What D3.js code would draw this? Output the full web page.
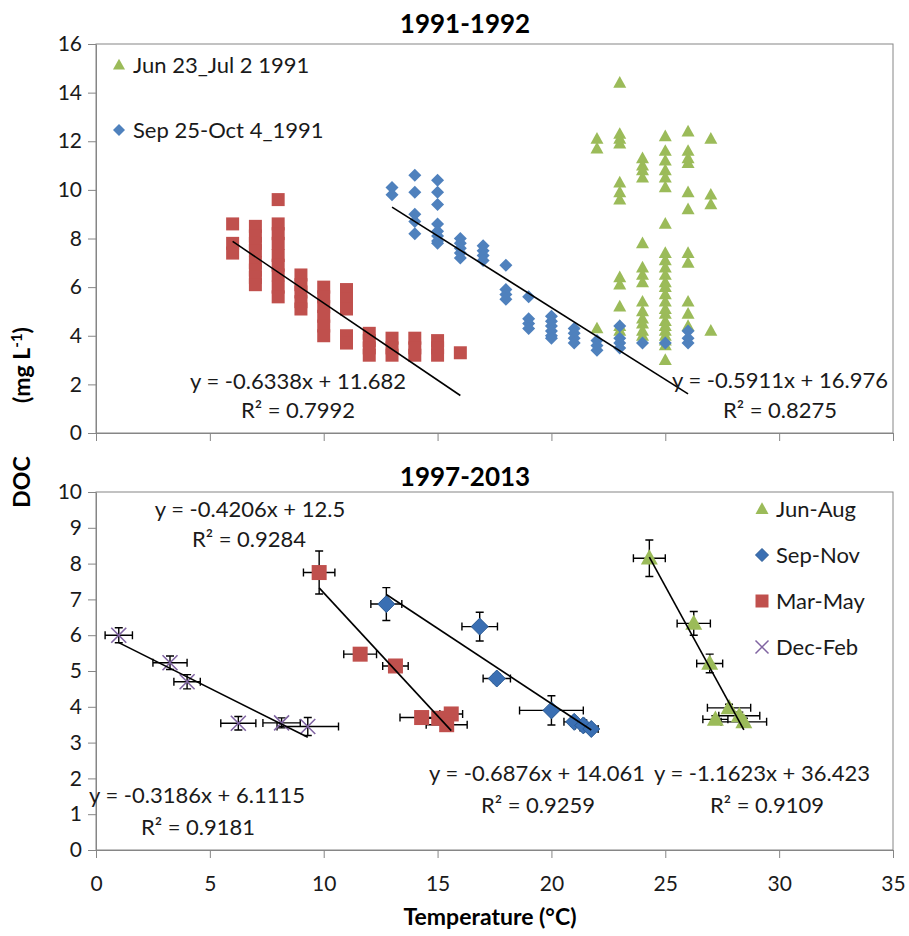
<!DOCTYPE html>
<html>
<head>
<meta charset="utf-8">
<script src="https://cdn.jsdelivr.net/npm/d3@7"></script>
<style>
  body { margin: 0; background: #fff; }
  svg { font-family: Lato, "Open Sans", sans-serif; }
</style>
</head>
<body>
<div id="chart"></div>
<script>
// ---- data: 1991-1992 (temperature column, DOC values) ----
const spring1992 = [
  [6, [8.6, 7.8, 7.4]],
  [7, [8.5, 8.1, 7.8, 7.5, 7.0, 6.7, 6.4, 6.1]],
  [8, [9.6, 8.6, 8.2, 7.8, 7.3, 6.9, 6.5, 6.0, 5.6]],
  [9, [6.5, 6.1, 5.8, 5.4, 5.1]],
  [10, [6.0, 5.6, 5.2, 4.8, 4.4, 4.0]],
  [11, [5.9, 5.5, 5.1, 4.0, 3.7]],
  [12, [4.1, 3.8, 3.5, 3.2]],
  [13, [3.9, 3.5, 3.2]],
  [14, [3.9, 3.5, 3.2]],
  [15, [3.8, 3.5, 3.2]],
  [16, [3.3]]
];
const junJul1991 = [
  [22, [12.1, 11.7, 4.3]],
  [23, [14.4, 12.3, 12.1, 11.9, 10.3, 9.9, 9.6, 6.4, 6.1, 5.2, 4.4, 4.2]],
  [24, [11.3, 11.0, 10.8, 10.5, 7.8, 6.8, 6.5, 6.2, 5.4, 5.0, 4.7, 4.5, 4.2, 4.0]],
  [25, [12.2, 11.6, 11.2, 10.8, 10.5, 10.1, 8.6, 7.4, 7.1, 6.8, 6.5, 6.2, 6.0, 5.7, 5.4, 5.1, 4.9, 4.6, 4.4, 4.2, 4.0, 3.8, 3.6, 3.0]],
  [26, [12.4, 11.6, 11.3, 11.1, 9.9, 9.2, 7.4, 7.0, 5.4, 4.9, 4.4]],
  [27, [12.1, 9.8, 9.4, 4.2]]
];
const sepOct1991 = [
  [13, [10.1, 9.8]],
  [14, [10.6, 9.9, 9.0, 8.7, 8.2]],
  [15, [10.4, 9.9, 9.4, 8.6, 8.3, 8.1, 7.9, 7.8]],
  [16, [8.0, 7.8, 7.6, 7.4, 7.2]],
  [17, [7.7, 7.5, 7.3, 7.1]],
  [18, [6.9, 5.9, 5.7, 5.5]],
  [19, [5.6, 4.7, 4.5, 4.3]],
  [20, [4.8, 4.6, 4.4, 4.2, 4.0, 3.9]],
  [21, [4.3, 4.1, 3.9, 3.7]],
  [22, [3.8, 3.6, 3.4]],
  [23, [4.4, 3.9, 3.7, 3.5]],
  [24, [3.7]],
  [25, [3.7]],
  [26, [4.2, 3.9, 3.7]]
];

// ---- data: 1997-2013 seasonal means [temp, DOC, temp err, DOC err] ----
const junAug = [[24.3, 8.15, 0.7, 0.51], [26.25, 6.33, 0.73, 0.33], [26.95, 5.21, 0.57, 0.26],
  [27.8, 3.97, 0.95, 0.1], [27.2, 3.65, 0.55, 0.1], [28.25, 3.75, 0.9, 0.1], [28.45, 3.58, 1.0, 0.1]];
const sepNov = [[12.75, 6.87, 0.68, 0.46], [16.85, 6.24, 0.78, 0.4], [17.6, 4.79, 0.6, 0.12],
  [20.0, 3.9, 1.4, 0.41], [21.0, 3.58, 0.45, 0.12], [21.4, 3.48, 0.35, 0.15], [21.75, 3.38, 0.3, 0.1]];
const marMay = [[9.8, 7.75, 0.69, 0.6], [11.6, 5.47, 0.72, 0.08], [13.15, 5.14, 0.56, 0.1],
  [14.3, 3.7, 0.95, 0.1], [15.05, 3.68, 0.5, 0.1], [15.6, 3.8, 0.5, 0.12], [15.4, 3.5, 0.9, 0.1]];
const decFeb = [[1.0, 6.0, 0.6, 0.21], [3.25, 5.23, 0.75, 0.19], [4.0, 4.7, 0.58, 0.2],
  [6.25, 3.54, 0.77, 0.19], [8.15, 3.55, 0.82, 0.14], [9.3, 3.45, 1.35, 0.25]];

// ---- linear fits: [slope, intercept, xStart, xEnd] ----
const topFits = [[-0.6338, 11.682, 6, 16], [-0.5911, 16.976, 13, 26]];
const bottomFits = [[-0.3186, 6.1115, 1.0, 9.3], [-0.6876, 14.061, 9.8, 15.6],
  [-0.4206, 12.5, 12.75, 21.75], [-1.1623, 36.423, 24.3, 28.45]];
const topEquations = [["y = -0.6338x + 11.682", "R² = 0.7992"], ["y = -0.5911x + 16.976", "R² = 0.8275"]];
const bottomEquations = [["y = -0.4206x + 12.5", "R² = 0.9284"], ["y = -0.3186x + 6.1115", "R² = 0.9181"],
  ["y = -0.6876x + 14.061", "R² = 0.9259"], ["y = -1.1623x + 36.423", "R² = 0.9109"]];

const xTicks = [0, 5, 10, 15, 20, 25, 30, 35];
const topYTicks = [0, 2, 4, 6, 8, 10, 12, 14, 16];
const bottomYTicks = [0, 1, 2, 3, 4, 5, 6, 7, 8, 9, 10];
const topLegend = ["Jun 23_Jul 2 1991", "Sep 25-Oct 4_1991"];
const bottomLegend = ["Jun-Aug", "Sep-Nov", "Mar-May", "Dec-Feb"];

// ---- layout ----
const width = 909, height = 936;
const axisGray = '#868686';
const RED = '#C0504D', GREEN = '#9BBB59', BLUE = '#4F81BD', DBLUE = '#3A6FB3', PURPLE = '#8064A2';

const svg = d3.select('#chart').append('svg').attr('width', width).attr('height', height);

const x = d3.scaleLinear().domain([0, 35]).range([96, 893]);
const yTop = d3.scaleLinear().domain([0, 16]).range([433, 44]);
const yBot = d3.scaleLinear().domain([0, 10]).range([850, 492]);

function shape(kind, s) {
  const h = s / 2;
  if (kind === 'square') return `M${-h},${-h}H${h}V${h}H${-h}Z`;
  if (kind === 'diamond') return `M0,${-h}L${h},0L0,${h}L${-h},0Z`;
  if (kind === 'triangle') return `M0,${-h * 1.05}L${h},${h * 0.75}L${-h},${h * 0.75}Z`;
  return `M${-h},${-h}L${h},${h}M${h},${-h}L${-h},${h}`;
}

function flat(cols) {
  return cols.flatMap(([t, vals]) => vals.map(v => [t, v]));
}

function frame(y, yTicks, showXLabels) {
  const g = svg.append('g');
  const [y0, y1] = y.range();
  g.append('rect')
    .attr('x', x(0)).attr('y', y1)
    .attr('width', x(35) - x(0)).attr('height', y0 - y1)
    .attr('fill', 'none').attr('stroke', axisGray);

  const ya = g.append('g')
    .attr('transform', `translate(${x(0)},0)`)
    .call(d3.axisLeft(y).tickValues(yTicks).tickSize(8).tickPadding(6).tickSizeOuter(0));
  const xa = g.append('g')
    .attr('transform', `translate(0,${y0})`)
    .call(d3.axisBottom(x).tickValues(xTicks).tickSize(8).tickPadding(18).tickSizeOuter(0)
      .tickFormat(showXLabels ? d3.format('d') : ''));
  [ya, xa].forEach(a => {
    a.select('.domain').attr('stroke', axisGray);
    a.selectAll('line').attr('stroke', axisGray);
    a.selectAll('text').attr('fill', '#1a1a1a').style('font-size', '21px')
      .style('font-family', 'Lato, sans-serif');
  });
  return g;
}

function fitLines(g, y, fits) {
  g.selectAll(null).data(fits).join('line')
    .attr('x1', d => x(d[2])).attr('y1', d => y(d[0] * d[2] + d[1]))
    .attr('x2', d => x(d[3])).attr('y2', d => y(d[0] * d[3] + d[1]))
    .attr('stroke', '#000').attr('stroke-width', 1.6);
}

function equations(g, eqs, spots) {
  eqs.forEach((lines, i) => {
    lines.forEach((txt, j) => {
      g.append('text')
        .attr('x', spots[i][j][0]).attr('y', spots[i][j][1])
        .attr('dy', '0.35em').attr('text-anchor', 'middle')
        .style('font-size', '22px').attr('fill', '#1a1a1a')
        .text(txt);
    });
  });
}

// ================= top panel =================
const gTop = frame(yTop, topYTicks, false);

gTop.append('g').selectAll('path').data(flat(spring1992)).join('path')
  .attr('d', shape('square', 13))
  .attr('transform', d => `translate(${x(d[0])},${yTop(d[1])})`)
  .attr('fill', RED);
gTop.append('g').selectAll('path').data(flat(junJul1991)).join('path')
  .attr('d', shape('triangle', 13))
  .attr('transform', d => `translate(${x(d[0])},${yTop(d[1])})`)
  .attr('fill', GREEN);
gTop.append('g').selectAll('path').data(flat(sepOct1991)).join('path')
  .attr('d', shape('diamond', 13))
  .attr('transform', d => `translate(${x(d[0])},${yTop(d[1])})`)
  .attr('fill', BLUE);

fitLines(gTop, yTop, topFits);
equations(gTop, topEquations, [[[298, 381], [298, 410]], [[780, 380], [780, 410]]]);

// legend (top)
const legTop = gTop.append('g');
[['triangle', GREEN, 65], ['diamond', BLUE, 130]].forEach(([k, c, ly], i) => {
  legTop.append('path').attr('d', shape(k, 12)).attr('fill', c)
    .attr('transform', `translate(119,${ly})`);
  legTop.append('text').attr('x', 133).attr('y', ly).attr('dy', '0.35em')
    .style('font-size', '22px').attr('fill', '#1a1a1a').text(topLegend[i]);
});

svg.append('text').attr('x', 465).attr('y', 33).attr('text-anchor', 'middle')
  .style('font-size', '26px').style('font-weight', 'bold').text('1991-1992');

// ================= bottom panel =================
const gBot = frame(yBot, bottomYTicks, true);

const seasons = [
  { data: decFeb, kind: 'x', size: 15, fill: 'none', stroke: PURPLE },
  { data: marMay, kind: 'square', size: 15, fill: RED, stroke: 'none' },
  { data: sepNov, kind: 'diamond', size: 17, fill: DBLUE, stroke: '#2A5A94' },
  { data: junAug, kind: 'triangle', size: 17, fill: GREEN, stroke: 'none' }
];

const cap = 4;
const errG = gBot.append('g').attr('stroke', '#000').attr('stroke-width', 1.4);
seasons.forEach(s => {
  s.data.forEach(([t, v, te, ve]) => {
    const px = x(t), py = yBot(v);
    const xl = x(t - te), xr = x(t + te), yt = yBot(v + ve), yb = yBot(v - ve);
    errG.append('path')
      .attr('fill', 'none')
      .attr('d', `M${xl},${py}H${xr}M${xl},${py - cap}V${py + cap}M${xr},${py - cap}V${py + cap}` +
        `M${px},${yt}V${yb}M${px - cap},${yt}H${px + cap}M${px - cap},${yb}H${px + cap}`);
  });
});

seasons.forEach(s => {
  gBot.append('g').selectAll('path').data(s.data).join('path')
    .attr('d', shape(s.kind, s.size))
    .attr('transform', d => `translate(${x(d[0])},${yBot(d[1])})`)
    .attr('fill', s.fill).attr('stroke', s.stroke)
    .attr('stroke-width', s.kind === 'x' ? 1.6 : 1);
});

fitLines(gBot, yBot, bottomFits);
equations(gBot, bottomEquations, [
  [[250, 509], [249, 539]],
  [[197, 795], [198, 827]],
  [[537, 773], [538, 805]],
  [[762, 773], [767, 805]]
]);

// legend (bottom)
const legBot = gBot.append('g');
[['triangle', GREEN, 'none'], ['diamond', DBLUE, '#2A5A94'], ['square', RED, 'none'], ['x', 'none', PURPLE]]
  .forEach(([k, f, st], i) => {
    const ly = 509 + i * 46;
    legBot.append('path').attr('d', shape(k, 13)).attr('fill', f).attr('stroke', st)
      .attr('stroke-width', k === 'x' ? 1.5 : 1)
      .attr('transform', `translate(762,${ly})`);
    legBot.append('text').attr('x', 776).attr('y', ly).attr('dy', '0.35em')
      .style('font-size', '22px').attr('fill', '#1a1a1a').text(bottomLegend[i]);
  });

svg.append('text').attr('x', 465).attr('y', 486).attr('text-anchor', 'middle')
  .style('font-size', '26px').style('font-weight', 'bold').text('1997-2013');

// ---- axis titles ----
svg.append('text').attr('x', 490).attr('y', 925).attr('text-anchor', 'middle')
  .style('font-size', '23px').style('font-weight', 'bold').text('Temperature (°C)');

const yTitle = svg.append('g').attr('transform', 'translate(30,0) rotate(-90)')
  .style('font-size', '23px').style('font-weight', 'bold');
yTitle.append('text').attr('x', -482).attr('text-anchor', 'middle').text('DOC');
const unit = yTitle.append('text').attr('x', -365).attr('text-anchor', 'middle');
unit.append('tspan').text('(mg L');
unit.append('tspan').attr('dy', -8).style('font-size', '15px').text('-1');
unit.append('tspan').attr('dy', 8).text(')');
</script>
</body>
</html>
